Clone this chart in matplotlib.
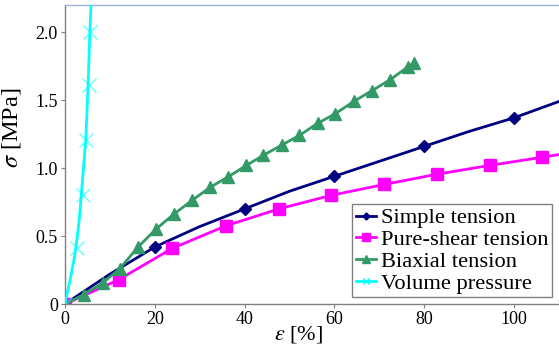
import matplotlib.pyplot as plt
from matplotlib.ticker import FixedLocator, FuncFormatter

plt.rcParams['font.family'] = ['Liberation Serif', 'DejaVu Serif']
plt.rcParams['mathtext.fontset'] = 'stix'

# simple tension (curve points, markers every 20 %)
simple_x = [0, 5, 10, 15, 20, 30, 40, 50, 60, 70, 80, 90, 100, 110]
simple_y = [0, 0.11, 0.22, 0.32, 0.42, 0.57, 0.70, 0.83, 0.94, 1.05, 1.16, 1.27, 1.37, 1.49]
simple_marks = [0, 4, 6, 8, 10, 12]

# pure shear tension
shear_x = [0, 12.0, 23.9, 35.8, 47.6, 59.3, 71.1, 82.8, 94.6, 106.3, 110]
shear_y = [0, 0.18, 0.41, 0.575, 0.70, 0.80, 0.88, 0.955, 1.02, 1.08, 1.10]
shear_marks = list(range(10))

# biaxial tension
biax_x = [0, 4.2, 8.4, 12.2, 16.3, 20.4, 24.4, 28.4, 32.4, 36.3, 40.4,
          44.2, 48.3, 52.2, 56.3, 60.2, 64.3, 68.4, 72.4, 76.4, 77.8]
biax_y = [0, 0.07, 0.155, 0.26, 0.42, 0.555, 0.665, 0.765, 0.86, 0.935, 1.02,
          1.095, 1.17, 1.24, 1.33, 1.40, 1.49, 1.57, 1.65, 1.745, 1.775]

# volume pressure: fitted line and measured points
vol_line_x = [0, 1.0, 2.0, 2.6, 3.2, 3.7, 4.2, 4.67, 5.18, 5.56, 5.95]
vol_line_y = [0, 0.15, 0.32, 0.45, 0.62, 0.82, 1.02, 1.21, 1.62, 1.99, 2.3]
vol_pts_x = [0, 2.7, 4.1, 4.8, 5.3, 5.7]
vol_pts_y = [0, 0.41, 0.80, 1.21, 1.61, 2.0]

navy = '#000080'
magenta = '#ff00ff'
green = '#339966'
cyan = '#00ffff'

fig = plt.figure(figsize=(5.59, 3.5), dpi=100)
ax = fig.add_axes([0.116, 0.131, 0.884, 0.855])

ax.plot(simple_x, simple_y, color=navy, lw=2, marker='D', ms=6, markevery=simple_marks, label='Simple tension')
ax.plot(shear_x, shear_y, color=magenta, lw=2, marker='s', ms=8.5, markevery=shear_marks, label='Pure-shear tension')
ax.plot(biax_x, biax_y, color=green, lw=2, marker='^', ms=9, label='Biaxial tension')
ax.plot(vol_line_x, vol_line_y, color=cyan, lw=2, zorder=3)
ax.plot(vol_pts_x, vol_pts_y, ls='none', color=cyan, marker='x', ms=10, mew=1, alpha=0.6)
ax.plot([], [], color=cyan, lw=2, marker='x', ms=8, mew=1, label='Volume pressure')

ax.set_xlim(0, 110)
ax.set_ylim(0, 2.2)
ax.xaxis.set_major_locator(FixedLocator([0, 20, 40, 60, 80, 100]))
ax.yaxis.set_major_locator(FixedLocator([0, 0.5, 1.0, 1.5, 2.0]))
ax.yaxis.set_major_formatter(FuncFormatter(lambda v, p: '0' if v == 0 else '%.1f' % v))
ax.tick_params(labelsize=13, length=3, color='#808080', direction='out', pad=2)

ax.set_xlabel(r'$\varepsilon$ [%]', fontsize=16)
ax.set_ylabel(r'$\sigma$ [MPa]', fontsize=17.5)
ax.xaxis.set_label_coords(0.472, -0.068)
ax.yaxis.set_label_coords(-0.085, 0.59)

ax.spines['right'].set_visible(False)
ax.spines['top'].set_color('#9fb6d3')
ax.spines['left'].set_color('#808080')
ax.spines['bottom'].set_color('#808080')
for s in ax.spines.values():
    s.set_linewidth(1)

leg = ax.legend(loc='lower right', fontsize=16.2, handlelength=0.9, handletextpad=0.25,
                labelspacing=0.05, borderpad=0.15, fancybox=False, edgecolor='#808080',
                framealpha=1, borderaxespad=0.3, markerscale=0.6)
leg.get_frame().set_linewidth(1)

fig.savefig('out.png', dpi=100)
